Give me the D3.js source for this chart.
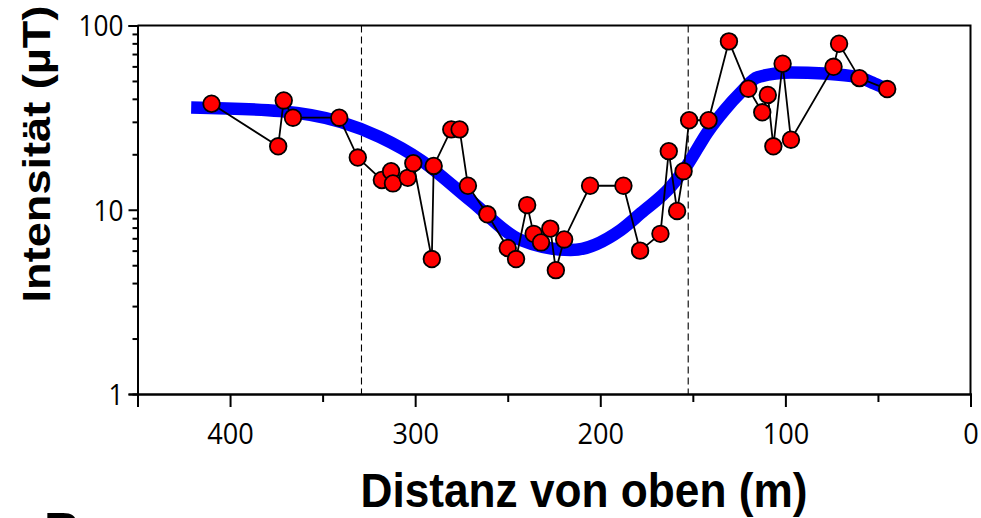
<!DOCTYPE html>
<html>
<head>
<meta charset="utf-8">
<script src="https://cdn.jsdelivr.net/npm/d3@7"></script>
<style>
  body { margin: 0; background: #fff; }
  svg { display: block; }
</style>
</head>
<body>
<svg id="chart" width="981" height="518"></svg>
<script>
// measured points, ordered by distance from the top (m)
const distance = [410, 374, 371, 366, 341, 331, 318, 313, 312, 304, 301, 291, 290,
  280.5, 276, 271.5, 261, 250, 245.5, 239.5, 236, 232, 227, 224, 219.5, 205.5, 187.5,
  178.5, 167.5, 163, 158.5, 155, 152, 141.5, 130.5, 120, 112.5, 109.5, 106.5, 101.5, 97,
  74, 71, 60, 45];
const intensity = [37.6, 22.1, 39.2, 31.6, 31.6, 19.2, 14.5, 16.2, 13.9, 14.9, 17.9, 5.4, 17.3,
  27.3, 27.3, 13.5, 9.45, 6.2, 5.4, 10.6, 7.4, 6.65, 7.9, 4.7, 6.9, 13.5, 13.5,
  6.0, 7.4, 20.8, 9.85, 16.2, 30.6, 30.6, 82, 45.4, 33.8, 42, 22.1, 62, 24,
  59.7, 79.6, 51.8, 45.2];

// smoothed trend (blue band)
const trendDistance = [421, 373, 340, 319, 297, 270, 243, 216, 189, 178, 162, 153, 142, 133,
  124, 115, 97, 79, 61, 52, 45];
const trendIntensity = [35.9, 34.3, 29.9, 24.8, 18.6, 11.2, 6.85, 6.04, 7.76, 9.6, 13.3, 17.5, 26.4, 34.6,
  43.5, 52.4, 55.6, 54.9, 52.5, 48.5, 45];

const boundaries = [329, 152.5];
const xMajorTicks = [400, 300, 200, 100, 0];
const xMinorTicks = [450, 350, 250, 150, 50];
const yMajorTicks = [1, 10, 100];
const yMinorTicks = [2, 3, 4, 5, 6, 7, 8, 9, 20, 30, 40, 50, 60, 70, 80, 90];

const xLabel = 'Distanz von oben (m)';
const yLabel = 'Intensität (µT)';

const plotLeft = 137.5, plotRight = 970.5, plotTop = 25.5, plotBottom = 394;

const svg = d3.select('#chart');
const x = d3.scaleLinear().domain([450, 0]).range([plotLeft, plotRight]);
const y = d3.scaleLog().domain([1, 100]).range([plotBottom, plotTop]);

const tickFont = '"Open Sans", "Noto Sans", sans-serif';
const boldFont = '"Liberation Sans", Arial, sans-serif';

// frame (top & right)
svg.append('path')
  .attr('d', `M${plotLeft},${plotTop}H${plotRight}V${plotBottom}`)
  .attr('fill', 'none')
  .attr('stroke', '#000')
  .attr('stroke-width', 2);

// dashed boundaries
svg.append('g')
  .selectAll('line')
  .data(boundaries)
  .join('line')
  .attr('x1', d => x(d)).attr('x2', d => x(d))
  .attr('y1', plotTop).attr('y2', plotBottom)
  .attr('stroke', '#000')
  .attr('stroke-width', 1.1)
  .attr('stroke-dasharray', '7,4');

// x axis
const xMinor = svg.append('g')
  .attr('transform', `translate(0,${plotBottom})`)
  .call(d3.axisBottom(x).tickValues(xMinorTicks).tickSize(8).tickFormat(''));
const xMajor = svg.append('g')
  .attr('transform', `translate(0,${plotBottom})`)
  .call(d3.axisBottom(x).tickValues(xMajorTicks).tickSize(13).tickPadding(16).tickFormat(d3.format('d')));
xMajor.selectAll('text')
  .attr('font-family', tickFont)
  .attr('font-size', 30)
  .attr('fill', '#000')
  .attr('textLength', d => String(d).length * 15.5)
  .attr('lengthAdjust', 'spacingAndGlyphs');

// y axis
const yMinor = svg.append('g')
  .attr('transform', `translate(${plotLeft},0)`)
  .call(d3.axisLeft(y).tickValues(yMinorTicks).tickSize(5).tickFormat(''));
const yMajor = svg.append('g')
  .attr('transform', `translate(${plotLeft},0)`)
  .call(d3.axisLeft(y).tickValues(yMajorTicks).tickSize(9).tickPadding(5).tickFormat(d3.format('d')));
yMajor.selectAll('text')
  .attr('font-family', tickFont)
  .attr('font-size', 29)
  .attr('fill', '#000')
  .attr('dy', '0.36em')
  .attr('textLength', d => String(d).length * 15)
  .attr('lengthAdjust', 'spacingAndGlyphs');

[xMinor, xMajor, yMinor, yMajor].forEach(g => {
  g.selectAll('.domain').attr('stroke', '#000').attr('stroke-width', 2);
  g.selectAll('.tick line').attr('stroke', '#000').attr('stroke-width', 2);
});

// trend band
const trend = trendDistance.map((d, i) => [d, trendIntensity[i]]);
svg.append('path')
  .datum(trend)
  .attr('d', d3.line().x(d => x(d[0])).y(d => y(d[1])).curve(d3.curveMonotoneX))
  .attr('fill', 'none')
  .attr('stroke', '#0000ff')
  .attr('stroke-width', 12.5);

// measurements
const pts = distance.map((d, i) => [d, intensity[i]]);
svg.append('path')
  .datum(pts)
  .attr('d', d3.line().x(d => x(d[0])).y(d => y(d[1])))
  .attr('fill', 'none')
  .attr('stroke', '#000')
  .attr('stroke-width', 1.8);

svg.append('g')
  .selectAll('circle')
  .data(pts)
  .join('circle')
  .attr('cx', d => x(d[0]))
  .attr('cy', d => y(d[1]))
  .attr('r', 8.3)
  .attr('fill', '#ff0000')
  .attr('stroke', '#000')
  .attr('stroke-width', 1.8);

// axis titles
svg.append('text')
  .attr('x', 584).attr('y', 507)
  .attr('text-anchor', 'middle')
  .attr('font-family', boldFont)
  .attr('font-weight', 'bold')
  .attr('font-size', 49)
  .attr('textLength', 447)
  .attr('lengthAdjust', 'spacingAndGlyphs')
  .text(xLabel);

svg.append('text')
  .attr('transform', 'translate(50,154) rotate(-90)')
  .attr('text-anchor', 'middle')
  .attr('font-family', boldFont)
  .attr('font-weight', 'bold')
  .attr('font-size', 39)
  .attr('textLength', 297)
  .attr('lengthAdjust', 'spacingAndGlyphs')
  .text(yLabel);

// next panel letter, cut off at the bottom edge
svg.append('text')
  .attr('x', 44).attr('y', 548)
  .attr('font-family', boldFont)
  .attr('font-weight', 'bold')
  .attr('font-size', 50)
  .text('B');
</script>
</body>
</html>
